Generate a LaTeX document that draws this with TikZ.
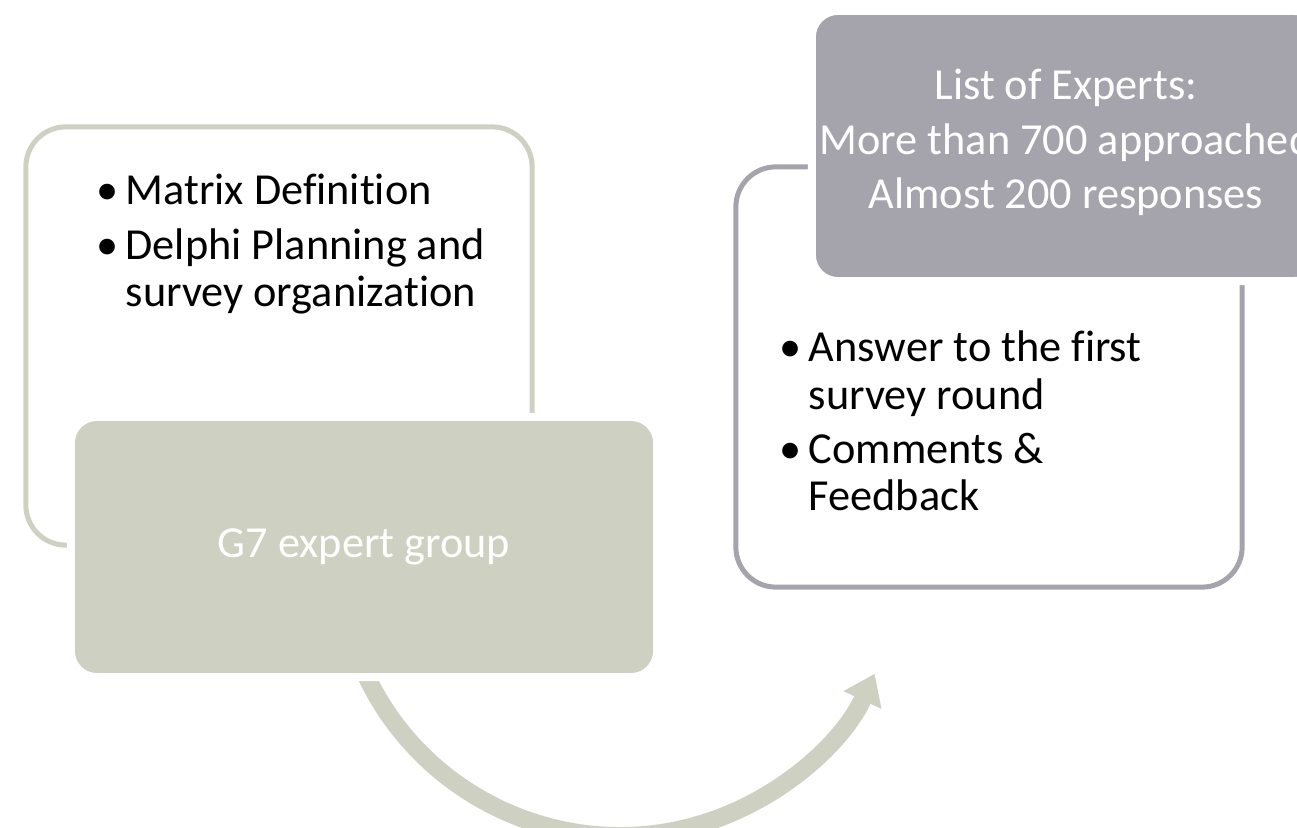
\documentclass[tikz,border=0pt]{standalone}
\usepackage{fontspec}
\setmainfont[Ligatures={NoCommon,NoContextual}]{Carlito}
\usepackage{tikz}
\usetikzlibrary{arrows.meta}

\definecolor{sage}{RGB}{206,208,193}
\definecolor{slate}{RGB}{165,163,172}

\newcommand\dotmark{\makebox[0.29cm][l]{\textbullet}}

\tikzset{
  openbox/.style={draw=#1, line width=0.05cm, rounded corners=0.4cm,
    minimum width=5.06cm, inner sep=0pt},
  solidbox/.style={fill=#1, draw=white, line width=0.08cm,
    rounded corners=0.26cm, inner sep=0pt, text=white,
    font=\fontsize{12.6}{15.4}\selectfont},
  listtext/.style={inner sep=0pt, font=\fontsize{12.6}{13.4}\selectfont},
  roundarrow/.style={draw=sage, line width=0.18cm,
    -{Triangle[length=0.29cm,width=0.40cm]}},
}

\begin{document}
\begin{tikzpicture}[x=0.01cm, y=-0.01cm]
  \useasboundingbox (0,0) rectangle (1297,828);
  \clip (0,0) rectangle (1297,828);

  % step arrow, partly under the group box
  \coordinate (hub) at (620,555);
  \draw[roundarrow] (hub) ++(160:281) arc[start angle=160, end angle=25, radius=281];

  % outlined boxes
  \node[openbox=sage, minimum height=4.18cm] (planframe) at (279,336) {};
  \node[openbox=slate, minimum height=4.20cm] (roundframe) at (989,377) {};

  % filled boxes
  \node[solidbox=sage, minimum width=5.86cm, minimum height=2.60cm] (g7box) at (364,547) {G7 expert group};
  \node[solidbox=slate, minimum width=5.08cm, minimum height=2.70cm] (expertbox) at (1066,146) {};

  \node[solidbox=slate, draw=none, fill=none, anchor=base] (expertnote) at (1066,100)
    {\begin{tabular}[t]{@{}c@{}}List of Experts:\\ More than 700 approached\\ Almost 200 responses\end{tabular}};

  % bullet lists
  \node[listtext, anchor=base west] (planlist) at (96,205)
    {\begin{tabular}[t]{@{}l@{}l@{}}
      \dotmark & Matrix Definition\\[2pt]
      \dotmark & Delphi Planning and\\
               & survey organization
    \end{tabular}};
  \node[listtext, anchor=base west] (roundlist) at (779,362)
    {\begin{tabular}[t]{@{}l@{}l@{}}
      \dotmark & Answer to the first\\
               & survey round\\[2pt]
      \dotmark & Comments \&\\
               & Feedback
    \end{tabular}};
\end{tikzpicture}
\end{document}
